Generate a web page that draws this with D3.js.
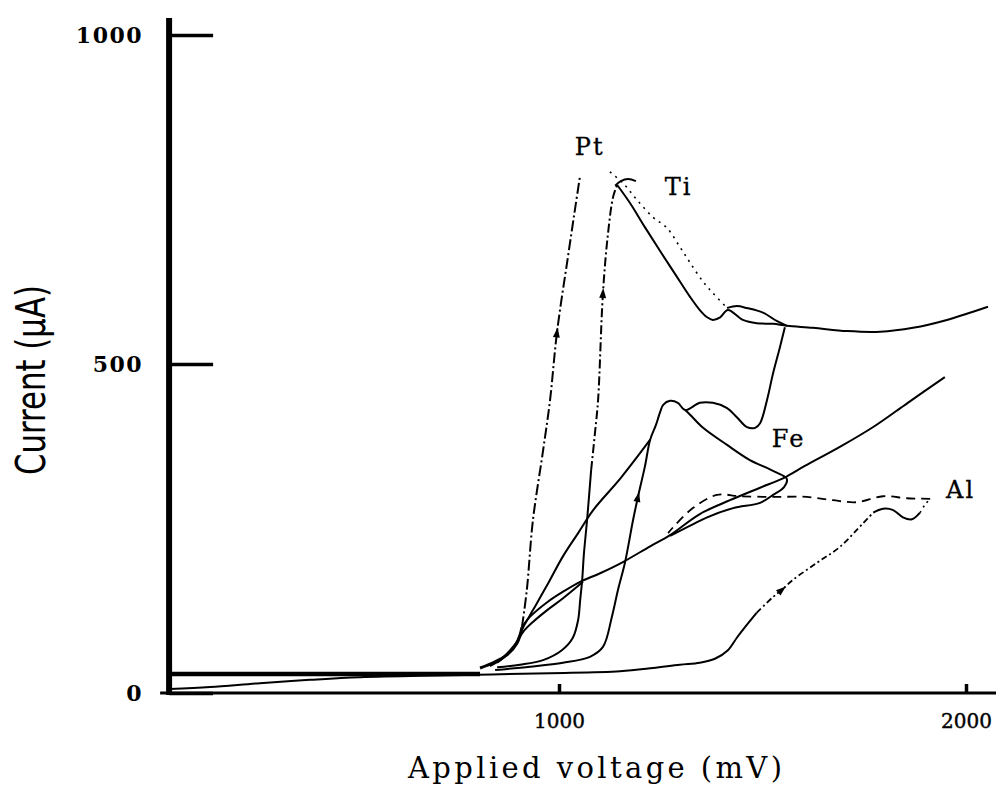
<!DOCTYPE html>
<html><head><meta charset="utf-8">
<script src="https://cdn.jsdelivr.net/npm/d3@7"></script>
<style>body{margin:0;background:#fff;} svg{display:block;}</style>
</head><body><svg id="chart" width="996" height="789"></svg>
<script>
// ---- data: [applied voltage (mV), current (µA)] ----
const xTicks = [1000, 2000];
const yTicks = [0, 500, 1000];
const metals = ["Pt", "Ti", "Fe", "Al"];

const baseline = [[42,29],[806,29]];
const ptBundle = [[806,38],[838,46],[872,58],[897,76],[909,100]];
const ptRise = [[909,100],[921,157],[936,263],[961,369],[978,445],[995,548],[1022,663],[1039,734],[1052,787]];
const tiRiseLow = [[848,39],[904,43],[961,50],[1007,65],[1034,84],[1047,111],[1052,141],[1057,172],[1061,210],[1069,263],[1079,339]];
const tiRiseHigh = [[1079,339],[1089,399],[1096,445],[1108,608],[1120,696],[1133,754],[1143,772]];
const tiCap = [[1138,771],[1152,778],[1170,781],[1189,778]];
const tiFall = [[1143,772],[1174,745],[1211,708],[1248,672],[1285,637],[1322,602],[1346,582],[1364,571],[1378,567],[1396,571],[1415,582],[1452,567],[1486,562],[1526,561],[1560,558],[1624,555],[1708,550],[1789,549],[1870,555],[1953,567],[2054,587]];
const tiDotted = [[1125,792],[1157,775],[1192,749],[1231,723],[1265,707],[1297,678],[1322,654],[1354,625],[1378,608],[1413,585]];
const tiArc = [[1413,585],[1437,588],[1462,585],[1501,578],[1536,565],[1560,558]];
const feRise = [[843,35],[929,40],[1010,46],[1076,55],[1108,70],[1130,116],[1145,157],[1162,198],[1182,263],[1194,298],[1211,344],[1224,385],[1238,407],[1248,426],[1256,438],[1273,444],[1292,441],[1310,430],[1346,441],[1378,441],[1413,433],[1437,419],[1462,404],[1482,403],[1494,410],[1511,445],[1526,486],[1543,526],[1555,556]];
const feDiag = [[848,46],[887,68],[912,100],[936,126],[971,164],[1010,208],[1047,243],[1084,278],[1152,327],[1224,385]];
const feReturn = [[1310,430],[1322,423],[1354,403],[1413,377],[1469,354],[1511,342],[1548,331]];
const feLong = [[1948,480],[1857,441],[1774,405],[1690,374],[1604,345],[1553,327],[1494,312],[1420,293],[1346,272],[1273,240],[1224,223],[1157,199],[1101,182],[1052,169],[1010,154],[971,138],[929,116],[912,103]];
const feLoop = [[1059,169],[1010,144],[971,126],[936,108],[912,93],[897,78],[880,65],[855,50],[830,41]];
const feLower = [[1548,331],[1560,325],[1553,313],[1526,301],[1494,289],[1428,281],[1364,267],[1315,252],[1273,239]];
const alRise = [[44,6],[143,9],[265,15],[388,20],[511,24],[732,27],[978,30],[1150,33],[1231,38],[1297,43],[1346,46],[1383,52],[1415,65],[1437,84],[1457,100],[1486,122]];
const alRiseDash = [[1486,122],[1526,146],[1548,157],[1575,172],[1634,198],[1690,222],[1747,258],[1772,274]];
const alBump = [[1772,274],[1796,280],[1821,278],[1845,267],[1867,264],[1887,274]];
const alTail = [[1887,274],[1899,286],[1912,295]];
const alReturn = [[1912,295],[1855,296],[1796,299],[1732,290],[1673,293],[1609,298],[1526,298],[1445,299],[1388,301],[1329,281],[1285,255],[1268,243]];

// ---- scales ----
const x = d3.scaleLinear().domain([0, 2000]).range([152, 966]);
const y = d3.scaleLinear().domain([0, 1000]).range([693, 35]);
const svg = d3.select("#chart");
const line = d3.line().x(d => x(d[0])).y(d => y(d[1])).curve(d3.curveCatmullRom.alpha(0.5));

// ---- axes lines ----
const yAxisAt = 42;
svg.append("line").attr("x1", x(yAxisAt)).attr("x2", x(yAxisAt)).attr("y1", y(1026)).attr("y2", y(-3))
  .attr("stroke", "#000").attr("stroke-width", 6);
svg.append("line").attr("x1", x(20)).attr("x2", 996).attr("y1", y(0)).attr("y2", y(0))
  .attr("stroke", "#000").attr("stroke-width", 3);

const gy = svg.append("g").attr("transform", `translate(${x(yAxisAt)},0)`)
  .call(d3.axisLeft(y).tickValues(yTicks).tickSizeInner(-44).tickSizeOuter(0).tickPadding(26).tickFormat(d3.format("d")));
gy.select(".domain").remove();
gy.selectAll("line").attr("stroke", "#000").attr("stroke-width", 3.5);
gy.selectAll("text").attr("font-family", "DejaVu Serif").attr("font-weight", "bold")
  .attr("font-size", 22).attr("letter-spacing", 1.5).attr("fill", "#000");

const gx = svg.append("g").attr("transform", `translate(0,${y(0)})`)
  .call(d3.axisBottom(x).tickValues(xTicks).tickSizeInner(-9).tickSizeOuter(0).tickPadding(21).tickFormat(d3.format("d")));
gx.select(".domain").remove();
gx.selectAll("line").attr("stroke", "#000").attr("stroke-width", 3.5);
gx.selectAll("text").attr("font-family", "DejaVu Serif").attr("font-size", 20).attr("fill", "#000")
  .attr("stroke", "#000").attr("stroke-width", 0.4);

// ---- curves ----
const series = [
  {d: baseline, w: 4.5},
  {d: ptBundle, w: 3},
  {d: ptRise, w: 2, dash: "11,3,2,3"},
  {d: tiRiseLow, w: 2},
  {d: tiRiseHigh, w: 2, dash: "9,3,2,3"},
  {d: tiCap, w: 2},
  {d: tiFall, w: 2},
  {d: tiDotted, w: 1.6, dash: "2,5"},
  {d: tiArc, w: 2},
  {d: feRise, w: 2},
  {d: feDiag, w: 2},
  {d: feReturn, w: 2},
  {d: feLong, w: 2},
  {d: feLoop, w: 2},
  {d: feLower, w: 2},
  {d: alRise, w: 2},
  {d: alRiseDash, w: 1.8, dash: "6,3,2,3"},
  {d: alBump, w: 2},
  {d: alTail, w: 1.6, dash: "2,4"},
  {d: alReturn, w: 1.8, dash: "9,6"}
];
svg.append("g").selectAll("path").data(series).join("path")
  .attr("d", s => line(s.d)).attr("fill", "none").attr("stroke", "#000")
  .attr("stroke-width", s => s.w).attr("stroke-dasharray", s => s.dash || null)
  .attr("stroke-linejoin", "round");

// ---- direction arrows ----
const arrows = [{d: ptRise, i: 5}, {d: tiRiseHigh, i: 3}, {d: feRise, i: 9}, {d: alRiseDash, i: 2}];
svg.append("g").selectAll("path").data(arrows).join("path")
  .attr("d", "M5,0 L-5,-3.5 L-5,3.5 Z").attr("fill", "#000")
  .attr("transform", a => {
    const p = a.d[a.i], p0 = a.d[a.i - 1], p1 = a.d[a.i + 1];
    const ang = Math.atan2(y(p1[1]) - y(p0[1]), x(p1[0]) - x(p0[0])) * 180 / Math.PI;
    return `translate(${x(p[0])},${y(p[1])}) rotate(${ang})`;
  });

// ---- metal labels ----
const labelAt = {Pt: [1039, 818], Ti: [1260, 757], Fe: [1523, 374], Al: [1951, 296]};
svg.append("g").selectAll("text").data(metals).join("text")
  .attr("x", m => x(labelAt[m][0])).attr("y", m => y(labelAt[m][1]))
  .attr("font-family", "DejaVu Serif").attr("font-size", 24).attr("letter-spacing", 2)
  .attr("fill", "#000").attr("stroke", "#000").attr("stroke-width", 0.3).text(m => m);

// ---- axis titles ----
svg.append("text").attr("x", 408).attr("y", 778)
  .attr("font-family", "DejaVu Serif").attr("font-size", 29)
  .attr("textLength", 374).attr("lengthAdjust", "spacing").attr("fill", "#000")
  .text("Applied voltage (mV)");
svg.append("text").attr("transform", "translate(45,380) rotate(-90)").attr("text-anchor", "middle")
  .attr("font-family", "'Liberation Sans Narrow','DejaVu Sans Condensed',sans-serif").attr("font-size", 40)
  .attr("textLength", 190).attr("lengthAdjust", "spacingAndGlyphs").attr("fill", "#000")
  .text("Current (µA)");
</script></body></html>
